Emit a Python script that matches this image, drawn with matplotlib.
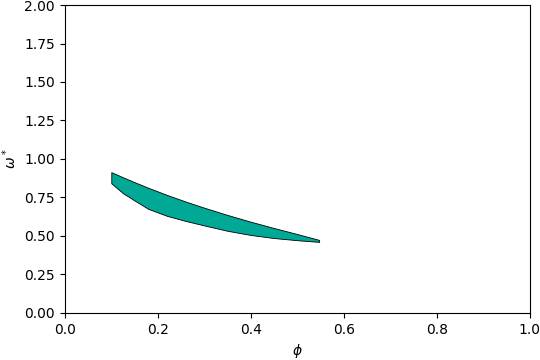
import numpy as np
import matplotlib
matplotlib.use('Agg')
import matplotlib.pyplot as plt

# valors llegits de la figura
phi = [0.10, 0.125, 0.15, 0.18, 0.22, 0.26, 0.30, 0.35, 0.40, 0.45, 0.50, 0.547]
omega_upper = [0.914, 0.881, 0.849, 0.812, 0.766, 0.723, 0.683, 0.636, 0.592, 0.551, 0.512, 0.474]
omega_lower = [0.842, 0.778, 0.730, 0.675, 0.630, 0.597, 0.568, 0.533, 0.506, 0.486, 0.472, 0.461]

fig = plt.figure(figsize=(5.4, 3.6), dpi=100)
ax = fig.add_axes([0.120, 0.131, 0.861, 0.855])
ax.fill_between(phi, omega_lower, omega_upper, facecolor='#00a896',
                edgecolor='black', linewidth=0.6)
ax.set_xlim(0, 1)
ax.set_ylim(0, 2)
ax.set_yticks(np.arange(0, 2.01, 0.25))
ax.set_xlabel(r'$\phi$')
ax.set_ylabel(r'$\omega^*$')
plt.savefig('out.png', dpi=100)
plt.close()
